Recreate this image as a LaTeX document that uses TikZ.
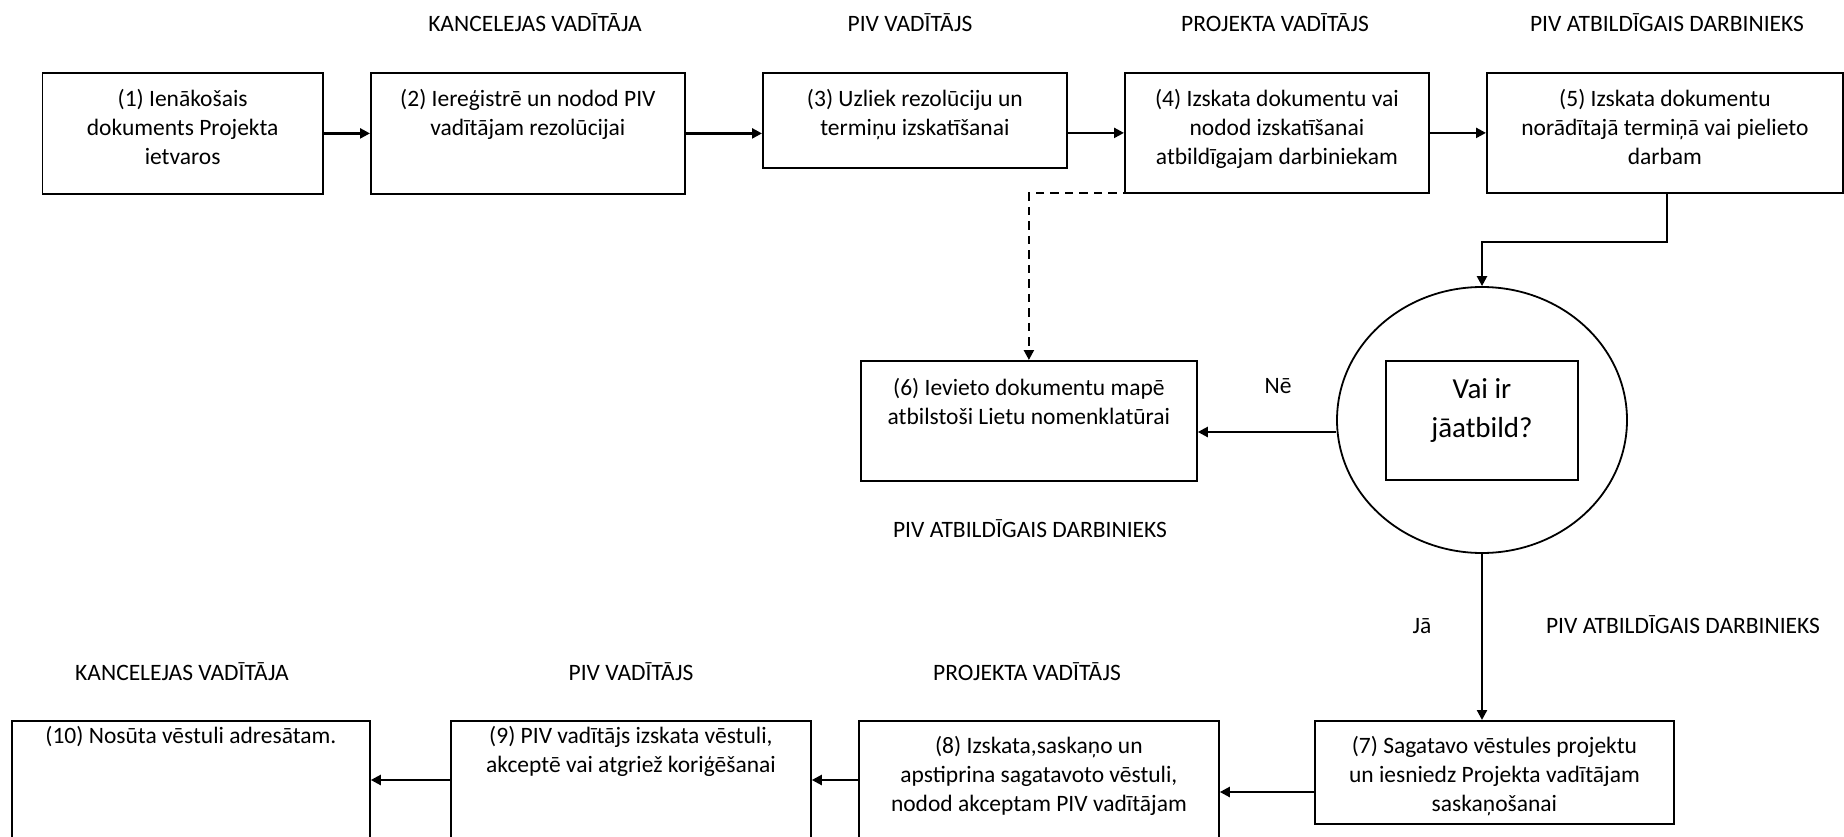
\documentclass[tikz,border=0pt]{standalone}
\usepackage{fontspec}
\setmainfont{Carlito}
\usetikzlibrary{arrows.meta,shapes.geometric}
% fixed-size text area, text hung from the top at a given first baseline
\newcommand{\boxtxt}[4]{\parbox[c][#2][t]{#1}{\centering\rule{0pt}{#3}#4}}

\begin{document}
\begin{tikzpicture}[x=1pt,y=-1pt,
  every node/.style={font=\fontsize{23.5}{29}\selectfont},
  procbox/.style={draw, line width=1.8pt, inner sep=0pt, anchor=north west},
  lane/.style={anchor=base, inner sep=0pt},
  flow/.style={line width=2.3pt, -{Triangle[length=10pt,width=10pt]}},
  dashflow/.style={flow, dash pattern=on 8.5pt off 6pt},
]
\useasboundingbox (0,0) rectangle (1844,837);

% role labels
\node[lane] (l1) at (535,32) {KANCELEJAS VADĪTĀJA};
\node[lane] (l2) at (910,32) {PIV VADĪTĀJS};
\node[lane] (l3) at (1275,32) {PROJEKTA VADĪTĀJS};
\node[lane] (l4) at (1667,32) {PIV ATBILDĪGAIS DARBINIEKS};
\node[lane] (l5) at (1030,537) {PIV ATBILDĪGAIS DARBINIEKS};
\node[lane] (l6) at (1683,633) {PIV ATBILDĪGAIS DARBINIEKS};
\node[lane] (l7) at (182,680) {KANCELEJAS VADĪTĀJA};
\node[lane] (l8) at (631,680) {PIV VADĪTĀJS};
\node[lane] (l9) at (1027,680) {PROJEKTA VADĪTĀJS};

% process steps, top row
\node[procbox] (b1) at (41.5,72) {\boxtxt{280.5pt}{121pt}{34pt}{(1) Ienākošais\\dokuments Projekta\\ietvaros}};
\node[procbox] (b2) at (370,72) {\boxtxt{314pt}{121pt}{34pt}{(2) Iereģistrē un nodod PIV\\vadītājam rezolūcijai}};
\node[procbox] (b3) at (762,72) {\boxtxt{304pt}{95pt}{34pt}{(3) Uzliek rezolūciju un\\termiņu izskatīšanai}};
\node[procbox] (b4) at (1124,72) {\boxtxt{304pt}{120pt}{34pt}{(4) Izskata dokumentu vai\\nodod izskatīšanai\\atbildīgajam darbiniekam}};
\node[procbox] (b5) at (1486,72) {\boxtxt{356pt}{120pt}{34pt}{(5) Izskata dokumentu\\norādītajā termiņā vai pielieto\\darbam}};

% filing step and decision
\node[procbox] (b6) at (860,360) {\boxtxt{336pt}{120pt}{35pt}{(6) Ievieto dokumentu mapē\\atbilstoši Lietu nomenklatūrai}};
\node[draw, ellipse, line width=1.8pt, minimum width=290pt, minimum height=266pt, inner sep=0pt] (dec) at (1482,420) {};
\node[procbox, anchor=center, font=\fontsize{29}{39}\selectfont] (q) at (1482,420.5) {\boxtxt{192pt}{119pt}{37pt}{Vai ir\\jāatbild?}};

% process steps, bottom row
\node[procbox] (b7) at (1314,720) {\boxtxt{359pt}{103pt}{33pt}{(7) Sagatavo vēstules projektu\\un iesniedz Projekta vadītājam\\saskaņošanai}};
\node[procbox] (b8) at (858,720) {\boxtxt{360pt}{125pt}{33pt}{(8) Izskata,saskaņo un\\apstiprina sagatavoto vēstuli,\\nodod akceptam PIV vadītājam}};
\node[procbox] (b9) at (450,720) {\boxtxt{360pt}{125pt}{23pt}{(9) PIV vadītājs izskata vēstuli,\\akceptē vai atgriež koriģēšanai}};
\node[procbox] (b10) at (11,720) {\boxtxt{358pt}{125pt}{23pt}{(10) Nosūta vēstuli adresātam.}};

% answer labels
\node[lane] (no) at (1278,393) {Nē};
\node[lane] (yes) at (1422,633) {Jā};

% connectors
\draw[flow] (b1.east) -- (b2.west);
\draw[flow] (b2.east) -- (b2.east -| b3.west);
\draw[flow] (b3.east |- b4.west) -- (b4.west);
\draw[flow] (b4.east) -- (b5.west);
\draw[flow] (1667,0 |- b5.south) -- ++(0,48) -| (dec.north);
\draw[flow] ([yshift=-12pt]dec.west) -- ([yshift=-12pt]dec.west -| b6.east);
\draw[flow] (dec.south) -- (dec.south |- b7.north);
\draw[flow] (b7.west |- 0,792) -- (b8.east |- 0,792);
\draw[flow] (b8.west |- 0,780) -- (b9.east |- 0,780);
\draw[flow] (b9.west |- 0,780) -- (b10.east |- 0,780);
\coordinate (d0) at (1276,193);
\draw[dashflow] (d0) -- (d0 -| b6.north) -- (b6.north);
\end{tikzpicture}
\end{document}
